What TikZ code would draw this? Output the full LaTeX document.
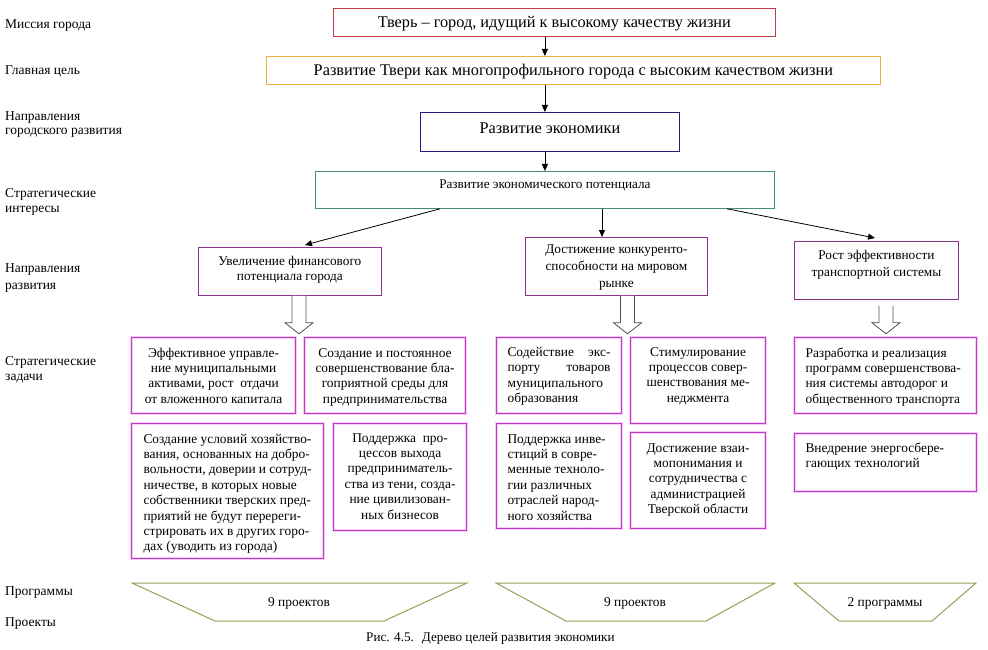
\documentclass[tikz,border=0pt]{standalone}
\usepackage{fontspec}
\setmainfont{Liberation Serif}
\usetikzlibrary{arrows.meta,calc}
\definecolor{cMis}{RGB}{192,60,70}
\definecolor{cGoal}{RGB}{235,175,60}
\definecolor{cEco}{RGB}{30,30,130}
\definecolor{cPot}{RGB}{70,140,110}
\definecolor{cDir}{RGB}{140,50,140}
\definecolor{cTask}{RGB}{190,60,200}
\definecolor{cGlow}{RGB}{245,205,245}
\definecolor{cTrap}{RGB}{150,160,90}
\definecolor{cHol}{RGB}{80,80,80}
% #1 width, #2 height, #3 first baseline from top, #4 side pad, #5 alignment, #6 text
\newcommand{\bx}[6]{\parbox[c][#2pt][t]{#1pt}{\hspace*{#4pt}\parbox[t]{\dimexpr#1pt-#4pt*2\relax}{#5\rule{0pt}{#3pt}#6}}}
% #1 line skip, #2 text
\newcommand{\lbl}[2]{\fontsize{13.5}{#1}\selectfont\parbox[t]{200pt}{\raggedright\rule{0pt}{10pt}#2}}
\begin{document}
\begin{tikzpicture}[x=1pt,y=-1pt,
  box/.style={inner sep=0pt, anchor=north west, line width=0.8pt},
  bigtxt/.style={font=\fontsize{16.3}{18}\selectfont},
  dirbox/.style={box, draw=cDir},
  taskbox/.style={box, draw=cTask, line width=1.1pt, preaction={draw=cGlow, line width=3pt},
    font=\fontsize{13.4}{15.4}\selectfont},
  lab/.style={inner sep=0pt, anchor=north west},
  arr/.style={line width=0.8pt, -{Triangle[length=7pt,width=6pt]}},
  hol/.style={draw=cHol, fill=white, line width=0.8pt},
  trap/.style={draw=cTrap, line width=1pt},
  traptxt/.style={font=\fontsize{13.4}{15}\selectfont}]
\fill[white] (0,0) rectangle (988,650);
\useasboundingbox (0,0) rectangle (988,650);

% left labels
\node[lab] (t1) at (5,18)  {\lbl{15}{Миссия города}};
\node[lab] (t2) at (5,64)  {\lbl{15}{Главная цель}};
\node[lab] (t3) at (5,110) {\lbl{14.8}{Направления\\городского развития}};
\node[lab] (t4) at (5,187) {\lbl{15}{Стратегические\\интересы}};
\node[lab] (t5) at (5,262) {\lbl{17}{Направления\\развития}};
\node[lab] (t6) at (5,355) {\lbl{15}{Стратегические\\задачи}};
\node[lab] (t7) at (5,585) {\lbl{15}{Программы}};
\node[lab] (t8) at (5,616) {\lbl{15}{Проекты}};

% top chain
\node[box, draw=cMis, bigtxt] (mis) at (333,8) {\bx{442}{28}{19}{0}{\centering}{Тверь – город, идущий к высокому качеству жизни}};
\node[box, draw=cGoal, bigtxt] (goal) at (266,56) {\bx{614}{28}{19.5}{0}{\centering}{Развитие Твери как многопрофильного города с высоким качеством жизни}};
\node[box, draw=cEco, bigtxt] (eco) at (420,112) {\bx{259}{39}{21.5}{0}{\centering}{Развитие экономики}};
\node[box, draw=cPot, font=\fontsize{13.2}{15}\selectfont] (pot) at (315,171) {\bx{459}{37}{17.5}{0}{\centering}{Развитие экономического потенциала}};

\draw[arr] (mis.south -| pot.north) -- (goal.north -| pot.north);
\draw[arr] (goal.south -| pot.north) -- (eco.north -| pot.north);
\draw[arr] (eco.south -| pot.north) -- (pot.north);

% directions
\node[dirbox, font=\fontsize{13.3}{15.5}\selectfont] (dl) at (198,247) {\bx{183}{48}{18}{2}{\centering}{Увеличение финансового\\потенциала города}};
\node[dirbox, font=\fontsize{13.3}{17}\selectfont] (dm) at (525,237) {\bx{182}{58}{16.5}{2}{\centering}{Достижение конкуренто-\\способности на мировом\\рынке}};
\node[dirbox, font=\fontsize{13.3}{17}\selectfont] (dr) at (794,241) {\bx{164}{58}{18}{2}{\centering}{Рост эффективности\\транспортной системы}};

\coordinate (ps1) at ($(pot.south west)+(125,0)$);
\coordinate (pe1) at ($(dl.north west)+(107,-2)$);
\coordinate (pe2) at ($(dm.north west)+(77,0)$);
\coordinate (ps3) at ($(pot.south west)+(412,0)$);
\coordinate (pe3) at ($(dr.north west)+(81,-3)$);
\draw[arr] (ps1) -- (pe1);
\draw[arr] (pe2 |- pot.south) -- (pe2);
\draw[arr] (ps3) -- (pe3);

% tasks
\node[taskbox] (l1) at (131,337) {\bx{164}{76}{19.5}{3}{\centering}{Эффективное управле-\\ние муниципальными\\активами, рост\ \ отдачи\\от вложенного капитала}};
\node[taskbox] (l2) at (304,337) {\bx{161}{76}{19.5}{3}{\centering}{Создание и постоянное\\совершенствование бла-\\гоприятной среды для\\предпринимательства}};
\node[taskbox] (l3) at (131,423) {\bx{192}{135}{19.5}{12}{\raggedright}{Создание условий хозяйство-\\вания, основанных на добро-\\вольности, доверии и сотруд-\\ничестве, в которых новые\\собственники тверских пред-\\приятий не будут перереги-\\стрировать их в других горо-\\дах (уводить из города)}};
\node[taskbox] (l4) at (333,423) {\bx{133}{107}{18.5}{3}{\centering}{Поддержка\ \ про-\\цессов выхода\\предприниматель-\\ства из тени, созда-\\ние цивилизован-\\ных бизнесов}};
\node[taskbox] (m1) at (496,337) {\bx{125}{76}{19}{11}{\raggedright}{\makebox[\linewidth][s]{Содействие экс-}\\\makebox[\linewidth][s]{порту товаров}\\муниципального\\образования}};
\node[taskbox] (m2) at (630,337) {\bx{135}{86}{18.5}{3}{\centering}{Стимулирование\\процессов совер-\\шенствования ме-\\неджмента}};
\node[taskbox] (m3) at (496,423) {\bx{125}{105}{19.5}{11}{\raggedright}{Поддержка инве-\\стиций в совре-\\менные техноло-\\гии различных\\отраслей народ-\\ного хозяйства}};
\node[taskbox] (m4) at (630,432) {\bx{135}{96}{19.5}{3}{\centering}{Достижение взаи-\\мопонимания и\\сотрудничества с\\администрацией\\Тверской области}};
\node[taskbox] (r1) at (794,337) {\bx{182}{76}{19.5}{11}{\raggedright}{Разработка и реализация\\программ совершенствова-\\ния системы автодорог и\\общественного транспорта}};
\node[taskbox] (r2) at (794,433) {\bx{182}{58}{18.5}{11}{\raggedright}{Внедрение энергосбере-\\гающих технологий}};

% hollow block arrows
\coordinate (h1) at ($(dl.south west)+(101,0)$);
\coordinate (h2) at ($(dm.south west)+(102.5,0)$);
\coordinate (h3) at ($(dr.south west)+(92,6)$);
\draw[hol, shift={(h1)}] (-7,0) -- (-7,27) -- (-14,27) -- (0,38) -- (14,27) -- (7,27) -- (7,0);
\draw[hol, shift={(h2)}] (-7,0) -- (-7,27) -- (-14,27) -- (0,38) -- (14,27) -- (7,27) -- (7,0);
\draw[hol, shift={(h3)}] (-7,0) -- (-7,17) -- (-14,17) -- (0,28) -- (14,17) -- (7,17) -- (7,0);

% programmes / projects
\draw[trap] (132,583) -- (467,583) -- (384,621) -- (215,621) -- cycle;
\draw[trap] (496,583) -- (775,583) -- (706,621) -- (566,621) -- cycle;
\draw[trap] (794,583) -- (976,583) -- (932,621) -- (839,621) -- cycle;
\node[traptxt] (p1) at (299,603) {9 проектов};
\node[traptxt] (p2) at (635,603) {9 проектов};
\node[traptxt] (p3) at (885,603) {2 программы};

% caption
\node[anchor=base west, inner sep=0pt, font=\fontsize{13.2}{15}\selectfont] (cap) at (366,641) {Рис. 4.5.\hspace{8pt}Дерево целей развития экономики};
\end{tikzpicture}
\end{document}
